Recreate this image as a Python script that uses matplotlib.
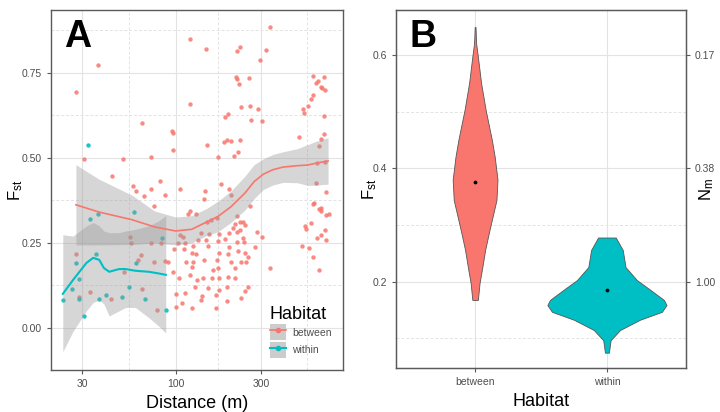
import numpy as np
import matplotlib
matplotlib.use("Agg")
import matplotlib.pyplot as plt
from matplotlib.lines import Line2D
from matplotlib.patches import Patch
from matplotlib.ticker import FixedLocator

plt.rcParams['font.family'] = ['Liberation Sans', 'DejaVu Sans']
plt.rcParams['mathtext.default'] = 'regular'

RED = '#F8766D'
CYAN = '#00BFC4'
GRID = '#e3e3e3'
FRAME = '#5a5a5a'
TXT = '#4d4d4d'

# -----------------------------------------------------------------------------
# Panel A data: pairwise Fst vs distance (m)
# -----------------------------------------------------------------------------
between_dist = [27.6, 36.6, 30.8, 50.8, 44, 57.4, 59.7, 66.8, 72.4, 82, 87, 65, 72.4, 95, 96, 96, 106,
                120, 120, 148, 150, 173, 146, 144, 180, 189, 197, 187, 194, 204, 213, 224, 230, 232,
                218, 221, 227, 221, 230, 258, 261, 265, 290, 305, 298, 320, 340, 200, 204, 490, 520,
                525, 550, 575, 592, 585, 612, 630, 650, 665, 685, 675, 675, 640, 655, 675, 622, 612,
                700, 600, 650, 685,
                76, 120, 118, 130, 221, 230, 240, 262, 150, 170, 138, 154, 176, 199, 209, 215, 221,
                240, 285, 305, 106, 110, 103, 113, 98, 112, 125, 134, 148, 152, 173, 189, 221, 243,
                279, 200, 224, 245, 254, 123, 130, 145, 170, 176, 197, 204, 233, 248, 115, 125, 123,
                161, 173, 215, 336, 97, 104, 120, 132, 143, 160, 176, 197, 215, 128, 151, 176, 194,
                254, 100, 113, 140, 168, 138, 194, 233, 100, 108, 124, 168, 245, 157, 230, 245,
                592, 640, 700, 570, 530, 535, 622, 655, 685, 700, 510, 560, 585, 640, 650, 720,
                27.6, 33.3, 28.8, 43.5, 55.5, 56, 64, 61.5, 65, 73, 76, 87.5, 90, 78.5, 83, 51]
between_fst = [0.694, 0.774, 0.497, 0.497, 0.447, 0.418, 0.403, 0.388, 0.409, 0.432, 0.391, 0.603, 0.503,
               0.579, 0.574, 0.524, 0.409, 0.85, 0.659, 0.82, 0.538, 0.503, 0.403, 0.379, 0.424, 0.621,
               0.629, 0.547, 0.553, 0.55, 0.506, 0.518, 0.553, 0.65, 0.738, 0.732, 0.718, 0.815, 0.826,
               0.735, 0.653, 0.612, 0.644, 0.609, 0.788, 0.818, 0.885, 0.409, 0.391, 0.562, 0.644,
               0.632, 0.653, 0.674, 0.685, 0.741, 0.721, 0.726, 0.709, 0.706, 0.7, 0.738, 0.624, 0.535,
               0.556, 0.571, 0.485, 0.426, 0.4, 0.368, 0.353, 0.488,
               0.359, 0.344, 0.335, 0.335, 0.329, 0.312, 0.312, 0.359, 0.312, 0.324, 0.279, 0.276,
               0.276, 0.279, 0.294, 0.306, 0.282, 0.265, 0.282, 0.268, 0.274, 0.268, 0.25, 0.25, 0.232,
               0.232, 0.241, 0.259, 0.259, 0.241, 0.256, 0.262, 0.253, 0.253, 0.238, 0.238, 0.226,
               0.22, 0.209, 0.22, 0.218, 0.2, 0.2, 0.22, 0.218, 0.194, 0.194, 0.194, 0.194, 0.194,
               0.179, 0.171, 0.176, 0.176, 0.176, 0.165, 0.147, 0.156, 0.141, 0.147, 0.147, 0.147,
               0.15, 0.147, 0.121, 0.118, 0.112, 0.121, 0.121, 0.1, 0.103, 0.094, 0.097, 0.082, 0.079,
               0.088, 0.062, 0.074, 0.059, 0.059, 0.109, 0.318, 0.288, 0.303,
               0.365, 0.35, 0.332, 0.309, 0.3, 0.291, 0.265, 0.274, 0.288, 0.259, 0.241, 0.235, 0.209,
               0.171, 0.345, 0.335,
               0.218, 0.106, 0.091, 0.085, 0.268, 0.25, 0.215, 0.2, 0.115, 0.25, 0.194, 0.197, 0.194,
               0.053, 0.25, 0.165]

within_dist = [23.3, 26.3, 27.6, 28.6, 28.9, 30.8, 33.3, 36.6, 35.7, 37.3, 40.7, 50.3, 54.4, 58.6,
               60, 67.5, 84, 88, 32.4]
within_fst = [0.082, 0.115, 0.191, 0.144, 0.085, 0.035, 0.32, 0.335, 0.218, 0.085, 0.097, 0.091,
              0.121, 0.341, 0.191, 0.085, 0.265, 0.053, 0.538]

# smoothed fits with confidence bands
fit_b_dist = [27.6, 37, 57, 76, 100, 123, 150, 173, 204, 245, 275, 310, 350, 400, 480, 550, 620, 715]
fit_b = [0.362, 0.341, 0.318, 0.297, 0.285, 0.29, 0.312, 0.328, 0.356, 0.397, 0.43, 0.452, 0.465,
         0.473, 0.477, 0.479, 0.485, 0.491]
fit_b_lo = [0.244, 0.244, 0.245, 0.25, 0.244, 0.25, 0.272, 0.283, 0.31, 0.347, 0.38, 0.407, 0.42,
            0.428, 0.427, 0.419, 0.42, 0.423]
fit_b_hi = [0.48, 0.438, 0.39, 0.344, 0.326, 0.33, 0.352, 0.373, 0.402, 0.447, 0.48, 0.497, 0.51,
            0.518, 0.527, 0.539, 0.55, 0.559]

fit_w_dist = [23.3, 26.6, 31.6, 34.5, 37.3, 39.6, 42.4, 48.2, 52.4, 59.4, 70.7, 80.4, 88]
fit_w = [0.1, 0.141, 0.191, 0.206, 0.2, 0.176, 0.165, 0.173, 0.173, 0.168, 0.165, 0.16, 0.156]
fit_w_lo = [-0.07, -0.01, 0.05, 0.075, 0.082, 0.07, 0.035, 0.05, 0.06, 0.06, 0.03, 0.005, -0.015]
fit_w_hi = [0.274, 0.27, 0.30, 0.31, 0.30, 0.285, 0.28, 0.28, 0.285, 0.29, 0.30, 0.315, 0.33]

# -----------------------------------------------------------------------------
# Panel B data: violin outlines (Fst level, half width) and medians
# -----------------------------------------------------------------------------
habitats = ['between', 'within']
vio_b_fst = [0.649, 0.62, 0.597, 0.551, 0.503, 0.45, 0.42, 0.38, 0.344, 0.315, 0.286, 0.256, 0.226,
             0.198, 0.168]
vio_b_hw = [0.003, 0.008, 0.021, 0.045, 0.08, 0.127, 0.149, 0.17, 0.162, 0.133, 0.104, 0.076, 0.055,
            0.034, 0.021]
vio_w_fst = [0.278, 0.256, 0.226, 0.203, 0.186, 0.168, 0.159, 0.147, 0.133, 0.115, 0.097, 0.075]
vio_w_hw = [0.067, 0.12, 0.141, 0.227, 0.328, 0.432, 0.452, 0.417, 0.25, 0.1, 0.028, 0.015]
medians = [0.376, 0.186]
fst_ticks = [0.2, 0.4, 0.6]
nm_labels = ['1.00', '0.38', '0.17']

# -----------------------------------------------------------------------------
# Figure
# -----------------------------------------------------------------------------
fig = plt.figure(figsize=(7.2, 4.12), dpi=100)
axA = fig.add_axes([0.0708, 0.1019, 0.4056, 0.8738])
axB = fig.add_axes([0.55, 0.1068, 0.4028, 0.8689])


def style_axes(ax):
    for s in ax.spines.values():
        s.set_color(FRAME)
        s.set_linewidth(1.0)
    ax.tick_params(which='major', length=3, color=FRAME, labelsize=7.5, labelcolor=TXT, width=0.8)
    ax.tick_params(which='minor', length=0)
    ax.grid(which='major', color=GRID, lw=0.8)
    ax.grid(which='minor', color=GRID, lw=0.7, ls=(0, (3, 2)))
    ax.set_axisbelow(True)


# panel A
axA.scatter(between_dist, between_fst, s=10, color=RED, alpha=0.85, lw=0, zorder=2)
axA.scatter(within_dist, within_fst, s=10, color=CYAN, alpha=0.9, lw=0, zorder=2)
axA.fill_between(fit_b_dist, fit_b_lo, fit_b_hi, color='#999999', alpha=0.4, lw=0, zorder=3)
axA.fill_between(fit_w_dist, fit_w_lo, fit_w_hi, color='#999999', alpha=0.4, lw=0, zorder=3)
axA.plot(fit_b_dist, fit_b, color=RED, lw=1.2, zorder=4)
axA.plot(fit_w_dist, fit_w, color=CYAN, lw=1.5, zorder=4)

axA.set_xscale('log')
axA.set_xlim(20, 867)
axA.set_ylim(-0.124, 0.935)
axA.set_xticks([30, 100, 300])
axA.set_xticklabels(['30', '100', '300'])
axA.xaxis.set_minor_locator(FixedLocator([54.8, 173, 548]))
axA.set_yticks([0, 0.25, 0.5, 0.75])
axA.set_yticklabels(['0.00', '0.25', '0.50', '0.75'])
axA.yaxis.set_minor_locator(FixedLocator([0.125, 0.375, 0.625, 0.875]))
style_axes(axA)
axA.set_xlabel('Distance (m)', fontsize=13, labelpad=4)
axA.set_ylabel('F$_{st}$', fontsize=12)
axA.yaxis.set_label_coords(-0.088, 0.5)
axA.text(0.045, 0.975, 'A', transform=axA.transAxes, fontsize=27, fontweight='bold', va='top')

handles = [(Patch(color='#cccccc', lw=0), Line2D([], [], color=RED, lw=1.2, marker='o', ms=3)),
           (Patch(color='#cccccc', lw=0), Line2D([], [], color=CYAN, lw=1.5, marker='o', ms=3))]
leg = axA.legend(handles, habitats, title='Habitat', loc='lower left', bbox_to_anchor=(0.72, 0.01),
                 frameon=False, fontsize=7.5, title_fontsize=13, handlelength=1.6, handleheight=2.0,
                 labelspacing=0.15, handletextpad=0.6, borderpad=0.3)
leg._legend_box.align = 'left'
for t in leg.get_texts():
    t.set_color(TXT)

# panel B
for pos, fst, hw, col in [(1, vio_b_fst, vio_b_hw, RED), (2, vio_w_fst, vio_w_hw, CYAN)]:
    fst = np.array(fst)
    hw = np.array(hw)
    axB.fill_betweenx(fst, pos - hw, pos + hw, facecolor=col, edgecolor='#555555', lw=0.6, zorder=2)
axB.scatter([1, 2], medians, s=3, color='black', zorder=3)

axB.set_xlim(0.4, 2.6)
axB.set_ylim(0.048, 0.679)
axB.set_xticks([1, 2])
axB.set_xticklabels(habitats)
axB.set_yticks(fst_ticks)
axB.set_yticklabels(['0.2', '0.4', '0.6'])
axB.yaxis.set_minor_locator(FixedLocator([0.1, 0.3, 0.5]))
style_axes(axB)
axB.set_xlabel('Habitat', fontsize=13, labelpad=4)
axB.set_ylabel('F$_{st}$', fontsize=12)
axB.yaxis.set_label_coords(-0.057, 0.5)
axB.text(0.045, 0.975, 'B', transform=axB.transAxes, fontsize=27, fontweight='bold', va='top')

twin = axB.twinx()
twin.set_ylim(axB.get_ylim())
twin.set_yticks(fst_ticks)
twin.set_yticklabels(nm_labels)
for s in twin.spines.values():
    s.set_color(FRAME)
twin.tick_params(length=3, color=FRAME, labelsize=7.5, labelcolor=TXT, width=0.8)
twin.set_ylabel('N$_{m}$', fontsize=12, rotation=90)
twin.yaxis.set_label_coords(1.04, 0.5)

fig.savefig('out.png', dpi=100)
